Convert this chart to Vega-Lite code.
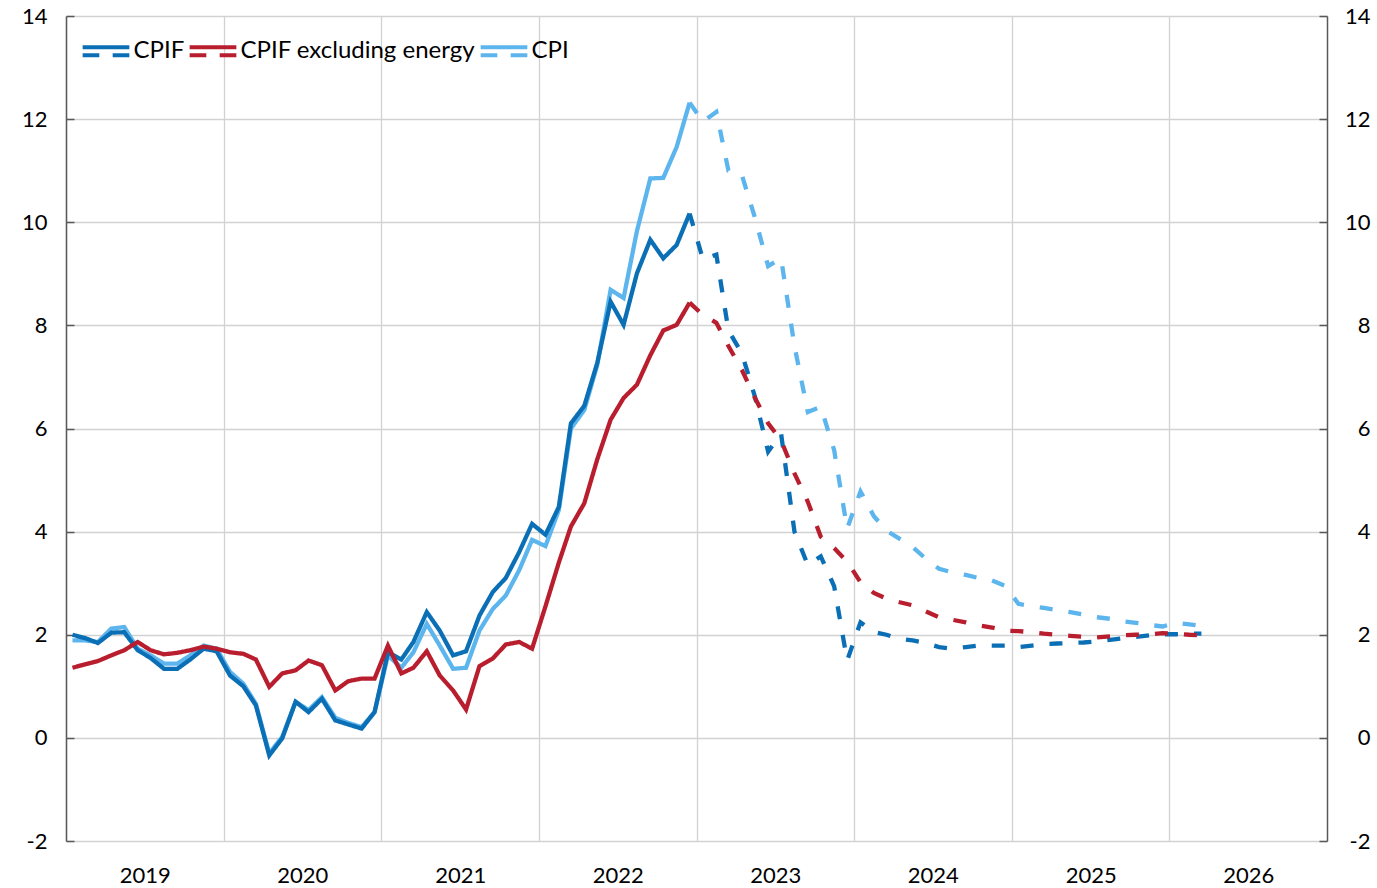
{
  "$schema": "https://vega.github.io/schema/vega-lite/v6.json",
  "width": 1261,
  "height": 825,
  "autosize": "none",
  "padding": {"left": 66, "top": 16, "right": 50, "bottom": 47},
  "background": "white",
  "config": {
    "font": "Lato",
    "view": {"stroke": null},
    "axis": {"labelFont": "Lato", "labelFontSize": 22, "labelColor": "#000000", "title": null}
  },
  "data": {"values": [
    {"date": "2019-01-16", "kind": "Outcome", "CPIF": 2.0, "CPIF excluding energy": 1.36, "CPI": 1.89},
    {"date": "2019-02-16", "kind": "Outcome", "CPIF": 1.93, "CPIF excluding energy": 1.43, "CPI": 1.89},
    {"date": "2019-03-16", "kind": "Outcome", "CPIF": 1.84, "CPIF excluding energy": 1.49, "CPI": 1.86},
    {"date": "2019-04-16", "kind": "Outcome", "CPIF": 2.04, "CPIF excluding energy": 1.6, "CPI": 2.12},
    {"date": "2019-05-16", "kind": "Outcome", "CPIF": 2.05, "CPIF excluding energy": 1.7, "CPI": 2.15},
    {"date": "2019-06-16", "kind": "Outcome", "CPIF": 1.7, "CPIF excluding energy": 1.86, "CPI": 1.73},
    {"date": "2019-07-16", "kind": "Outcome", "CPIF": 1.55, "CPIF excluding energy": 1.7, "CPI": 1.6},
    {"date": "2019-08-16", "kind": "Outcome", "CPIF": 1.34, "CPIF excluding energy": 1.62, "CPI": 1.44},
    {"date": "2019-09-16", "kind": "Outcome", "CPIF": 1.34, "CPIF excluding energy": 1.65, "CPI": 1.44},
    {"date": "2019-10-16", "kind": "Outcome", "CPIF": 1.52, "CPIF excluding energy": 1.7, "CPI": 1.6},
    {"date": "2019-11-16", "kind": "Outcome", "CPIF": 1.73, "CPIF excluding energy": 1.77, "CPI": 1.79},
    {"date": "2019-12-16", "kind": "Outcome", "CPIF": 1.68, "CPIF excluding energy": 1.73, "CPI": 1.73},
    {"date": "2020-01-16", "kind": "Outcome", "CPIF": 1.21, "CPIF excluding energy": 1.66, "CPI": 1.28},
    {"date": "2020-02-16", "kind": "Outcome", "CPIF": 1.0, "CPIF excluding energy": 1.63, "CPI": 1.05},
    {"date": "2020-03-16", "kind": "Outcome", "CPIF": 0.63, "CPIF excluding energy": 1.52, "CPI": 0.66},
    {"date": "2020-04-16", "kind": "Outcome", "CPIF": -0.34, "CPIF excluding energy": 0.99, "CPI": -0.3},
    {"date": "2020-05-16", "kind": "Outcome", "CPIF": -0.01, "CPIF excluding energy": 1.25, "CPI": 0.02},
    {"date": "2020-06-16", "kind": "Outcome", "CPIF": 0.7, "CPIF excluding energy": 1.31, "CPI": 0.7},
    {"date": "2020-07-16", "kind": "Outcome", "CPIF": 0.5, "CPIF excluding energy": 1.5, "CPI": 0.54},
    {"date": "2020-08-16", "kind": "Outcome", "CPIF": 0.76, "CPIF excluding energy": 1.41, "CPI": 0.79},
    {"date": "2020-09-16", "kind": "Outcome", "CPIF": 0.34, "CPIF excluding energy": 0.92, "CPI": 0.39},
    {"date": "2020-10-16", "kind": "Outcome", "CPIF": 0.26, "CPIF excluding energy": 1.1, "CPI": 0.29},
    {"date": "2020-11-16", "kind": "Outcome", "CPIF": 0.18, "CPIF excluding energy": 1.15, "CPI": 0.21},
    {"date": "2020-12-16", "kind": "Outcome", "CPIF": 0.5, "CPIF excluding energy": 1.15, "CPI": 0.5},
    {"date": "2021-01-16", "kind": "Outcome", "CPIF": 1.66, "CPIF excluding energy": 1.79, "CPI": 1.6},
    {"date": "2021-02-16", "kind": "Outcome", "CPIF": 1.52, "CPIF excluding energy": 1.25, "CPI": 1.36},
    {"date": "2021-03-16", "kind": "Outcome", "CPIF": 1.86, "CPIF excluding energy": 1.36, "CPI": 1.66},
    {"date": "2021-04-16", "kind": "Outcome", "CPIF": 2.44, "CPIF excluding energy": 1.68, "CPI": 2.21},
    {"date": "2021-05-16", "kind": "Outcome", "CPIF": 2.08, "CPIF excluding energy": 1.21, "CPI": 1.79},
    {"date": "2021-06-16", "kind": "Outcome", "CPIF": 1.6, "CPIF excluding energy": 0.92, "CPI": 1.34},
    {"date": "2021-07-16", "kind": "Outcome", "CPIF": 1.68, "CPIF excluding energy": 0.55, "CPI": 1.36},
    {"date": "2021-08-16", "kind": "Outcome", "CPIF": 2.37, "CPIF excluding energy": 1.39, "CPI": 2.08},
    {"date": "2021-09-16", "kind": "Outcome", "CPIF": 2.83, "CPIF excluding energy": 1.54, "CPI": 2.5},
    {"date": "2021-10-16", "kind": "Outcome", "CPIF": 3.1, "CPIF excluding energy": 1.81, "CPI": 2.76},
    {"date": "2021-11-16", "kind": "Outcome", "CPIF": 3.6, "CPIF excluding energy": 1.86, "CPI": 3.25},
    {"date": "2021-12-16", "kind": "Outcome", "CPIF": 4.15, "CPIF excluding energy": 1.73, "CPI": 3.84},
    {"date": "2022-01-16", "kind": "Outcome", "CPIF": 3.94, "CPIF excluding energy": 2.55, "CPI": 3.72},
    {"date": "2022-02-16", "kind": "Outcome", "CPIF": 4.48, "CPIF excluding energy": 3.4, "CPI": 4.42},
    {"date": "2022-03-16", "kind": "Outcome", "CPIF": 6.1, "CPIF excluding energy": 4.1, "CPI": 6.0},
    {"date": "2022-04-16", "kind": "Outcome", "CPIF": 6.44, "CPIF excluding energy": 4.55, "CPI": 6.36},
    {"date": "2022-05-16", "kind": "Outcome", "CPIF": 7.27, "CPIF excluding energy": 5.4, "CPI": 7.23},
    {"date": "2022-06-16", "kind": "Outcome", "CPIF": 8.46, "CPIF excluding energy": 6.17, "CPI": 8.69},
    {"date": "2022-07-16", "kind": "Outcome", "CPIF": 8.01, "CPIF excluding energy": 6.59, "CPI": 8.53},
    {"date": "2022-08-16", "kind": "Outcome", "CPIF": 9.01, "CPIF excluding energy": 6.85, "CPI": 9.83},
    {"date": "2022-09-16", "kind": "Outcome", "CPIF": 9.66, "CPIF excluding energy": 7.42, "CPI": 10.85},
    {"date": "2022-10-16", "kind": "Outcome", "CPIF": 9.3, "CPIF excluding energy": 7.9, "CPI": 10.86},
    {"date": "2022-11-16", "kind": "Outcome", "CPIF": 9.56, "CPIF excluding energy": 8.01, "CPI": 11.46},
    {"date": "2022-12-16", "kind": "Outcome", "CPIF": 10.17, "CPIF excluding energy": 8.44, "CPI": 12.32},
    {"date": "2022-12-16", "kind": "Forecast", "CPIF": 10.17, "CPIF excluding energy": 8.44, "CPI": 12.32},
    {"date": "2023-01-16", "kind": "Forecast", "CPIF": 9.28, "CPIF excluding energy": 8.2, "CPI": 11.95},
    {"date": "2023-02-16", "kind": "Forecast", "CPIF": 9.37, "CPIF excluding energy": 8.05, "CPI": 12.14},
    {"date": "2023-03-16", "kind": "Forecast", "CPIF": 7.9, "CPIF excluding energy": 7.6, "CPI": 11.0},
    {"date": "2023-04-16", "kind": "Forecast", "CPIF": 7.46, "CPIF excluding energy": 7.14, "CPI": 10.92},
    {"date": "2023-05-16", "kind": "Forecast", "CPIF": 6.63, "CPIF excluding energy": 6.6, "CPI": 10.1},
    {"date": "2023-06-16", "kind": "Forecast", "CPIF": 5.55, "CPIF excluding energy": 6.1, "CPI": 9.15},
    {"date": "2023-07-16", "kind": "Forecast", "CPIF": 5.9, "CPIF excluding energy": 5.77, "CPI": 9.3},
    {"date": "2023-08-16", "kind": "Forecast", "CPIF": 4.0, "CPIF excluding energy": 5.13, "CPI": 7.6},
    {"date": "2023-09-16", "kind": "Forecast", "CPIF": 3.35, "CPIF excluding energy": 4.58, "CPI": 6.32},
    {"date": "2023-10-16", "kind": "Forecast", "CPIF": 3.52, "CPIF excluding energy": 3.9, "CPI": 6.42},
    {"date": "2023-11-16", "kind": "Forecast", "CPIF": 2.94, "CPIF excluding energy": 3.68, "CPI": 5.58},
    {"date": "2023-12-16", "kind": "Forecast", "CPIF": 1.5, "CPIF excluding energy": 3.42, "CPI": 4.06},
    {"date": "2024-01-16", "kind": "Forecast", "CPIF": 2.24, "CPIF excluding energy": 3.02, "CPI": 4.78},
    {"date": "2024-02-16", "kind": "Forecast", "CPIF": 2.05, "CPIF excluding energy": 2.81, "CPI": 4.3},
    {"date": "2024-03-16", "kind": "Forecast", "CPIF": 2.0, "CPIF excluding energy": 2.7, "CPI": 4.02},
    {"date": "2024-04-16", "kind": "Forecast", "CPIF": 1.92, "CPIF excluding energy": 2.63, "CPI": 3.86},
    {"date": "2024-05-16", "kind": "Forecast", "CPIF": 1.89, "CPIF excluding energy": 2.57, "CPI": 3.7},
    {"date": "2024-06-16", "kind": "Forecast", "CPIF": 1.84, "CPIF excluding energy": 2.45, "CPI": 3.47},
    {"date": "2024-07-16", "kind": "Forecast", "CPIF": 1.76, "CPIF excluding energy": 2.34, "CPI": 3.28},
    {"date": "2024-08-16", "kind": "Forecast", "CPIF": 1.73, "CPIF excluding energy": 2.29, "CPI": 3.21},
    {"date": "2024-09-16", "kind": "Forecast", "CPIF": 1.76, "CPIF excluding energy": 2.24, "CPI": 3.16},
    {"date": "2024-10-16", "kind": "Forecast", "CPIF": 1.79, "CPIF excluding energy": 2.18, "CPI": 3.1},
    {"date": "2024-11-16", "kind": "Forecast", "CPIF": 1.79, "CPIF excluding energy": 2.14, "CPI": 3.05},
    {"date": "2024-12-16", "kind": "Forecast", "CPIF": 1.79, "CPIF excluding energy": 2.08, "CPI": 2.95},
    {"date": "2025-01-16", "kind": "Forecast", "CPIF": 1.76, "CPIF excluding energy": 2.07, "CPI": 2.6},
    {"date": "2025-02-16", "kind": "Forecast", "CPIF": 1.79, "CPIF excluding energy": 2.05, "CPI": 2.55},
    {"date": "2025-03-16", "kind": "Forecast", "CPIF": 1.82, "CPIF excluding energy": 2.02, "CPI": 2.52},
    {"date": "2025-04-16", "kind": "Forecast", "CPIF": 1.83, "CPIF excluding energy": 2.0, "CPI": 2.48},
    {"date": "2025-05-16", "kind": "Forecast", "CPIF": 1.84, "CPIF excluding energy": 1.98, "CPI": 2.44},
    {"date": "2025-06-16", "kind": "Forecast", "CPIF": 1.85, "CPIF excluding energy": 1.96, "CPI": 2.39},
    {"date": "2025-07-16", "kind": "Forecast", "CPIF": 1.87, "CPIF excluding energy": 1.95, "CPI": 2.34},
    {"date": "2025-08-16", "kind": "Forecast", "CPIF": 1.9, "CPIF excluding energy": 1.97, "CPI": 2.31},
    {"date": "2025-09-16", "kind": "Forecast", "CPIF": 1.93, "CPIF excluding energy": 1.99, "CPI": 2.26},
    {"date": "2025-10-16", "kind": "Forecast", "CPIF": 1.96, "CPIF excluding energy": 2.0, "CPI": 2.23},
    {"date": "2025-11-16", "kind": "Forecast", "CPIF": 1.99, "CPIF excluding energy": 2.01, "CPI": 2.19},
    {"date": "2025-12-16", "kind": "Forecast", "CPIF": 2.01, "CPIF excluding energy": 2.03, "CPI": 2.16},
    {"date": "2026-01-16", "kind": "Forecast", "CPIF": 2.01, "CPIF excluding energy": 2.02, "CPI": 2.23},
    {"date": "2026-02-16", "kind": "Forecast", "CPIF": 2.02, "CPIF excluding energy": 2.0, "CPI": 2.2},
    {"date": "2026-03-16", "kind": "Forecast", "CPIF": 2.02, "CPIF excluding energy": 1.99, "CPI": 2.17}
  ]},
  "transform": [
    {"fold": ["CPI", "CPIF", "CPIF excluding energy"], "as": ["series", "value"]}
  ],
  "encoding": {
    "x": {
      "field": "date", "type": "temporal",
      "scale": {"type": "utc", "domain": [{"year": 2019, "month": 1, "date": 1, "utc": true}, {"year": 2027, "month": 1, "date": 1, "utc": true}]},
      "axis": {
        "values": [
          {"year": 2019, "month": 1, "date": 1, "utc": true},
          {"year": 2020, "month": 1, "date": 1, "utc": true},
          {"year": 2021, "month": 1, "date": 1, "utc": true},
          {"year": 2022, "month": 1, "date": 1, "utc": true},
          {"year": 2023, "month": 1, "date": 1, "utc": true},
          {"year": 2024, "month": 1, "date": 1, "utc": true},
          {"year": 2025, "month": 1, "date": 1, "utc": true},
          {"year": 2026, "month": 1, "date": 1, "utc": true}
        ],
        "format": "%Y",
        "labelOffset": 78.8,
        "labelFlush": false,
        "labelOverlap": false,
        "labelBound": false,
        "ticks": false,
        "domain": false,
        "grid": true,
        "gridColor": "#d2d2d2",
        "gridWidth": 1.3,
        "labelPadding": 24,
        "labelAlign": "center"
      }
    }
  },
  "layer": [
    {
      "mark": {"type": "line", "strokeWidth": 4.3, "strokeCap": "butt"},
      "encoding": {
        "y": {
          "field": "value", "type": "quantitative",
          "scale": {"domain": [-2, 14], "nice": false, "zero": false},
          "axis": {
            "orient": "left",
            "values": [-2, 0, 2, 4, 6, 8, 10, 12, 14],
            "labelExpr": "'' + datum.value",
            "grid": true,
            "gridColor": "#d2d2d2",
            "gridWidth": 1.3,
            "domain": true,
            "domainColor": "#595959",
            "domainWidth": 1.5,
            "ticks": true,
            "tickSize": -8,
            "tickColor": "#595959",
            "tickWidth": 1.5,
            "labelPadding": 27
          }
        },
        "color": {
          "field": "series", "type": "nominal",
          "scale": {"domain": ["CPIF", "CPIF excluding energy", "CPI"], "range": ["#0B6FB6", "#B81E2D", "#5DB5EE"]},
          "legend": {
            "title": null,
            "orient": "none",
            "legendX": 14.5,
            "legendY": 9.4,
            "direction": "horizontal",
            "padding": 0,
            "symbolType": "M-1,-0.171H1M-1,0.171H-0.286M0.286,0.171H1",
            "symbolSize": 2181,
            "symbolStrokeWidth": 4,
            "symbolFillColor": "transparent",
            "symbolOpacity": 1,
            "labelFont": "Lato",
            "labelFontSize": 24,
            "labelColor": "#000000",
            "labelLimit": 0,
            "labelOffset": 2,
            "columnPadding": -3
          }
        },
        "strokeDash": {
          "field": "kind", "type": "nominal",
          "scale": {"domain": ["Outcome", "Forecast"], "range": [[1, 0], [13, 16]]},
          "legend": null
        }
      }
    },
    {
      "mark": {"type": "line", "opacity": 0},
      "encoding": {
        "y": {
          "field": "value", "type": "quantitative",
          "axis": {
            "orient": "right",
            "values": [-2, 0, 2, 4, 6, 8, 10, 12, 14],
            "labelExpr": "'' + datum.value",
            "grid": false,
            "domain": true,
            "domainColor": "#595959",
            "domainWidth": 1.5,
            "ticks": true,
            "tickSize": -8,
            "tickColor": "#595959",
            "tickWidth": 1.5,
            "labelAlign": "right",
            "labelPadding": 51
          }
        },
        "detail": {"field": "series"}
      }
    }
  ],
  "resolve": {"axis": {"y": "independent"}}
}
